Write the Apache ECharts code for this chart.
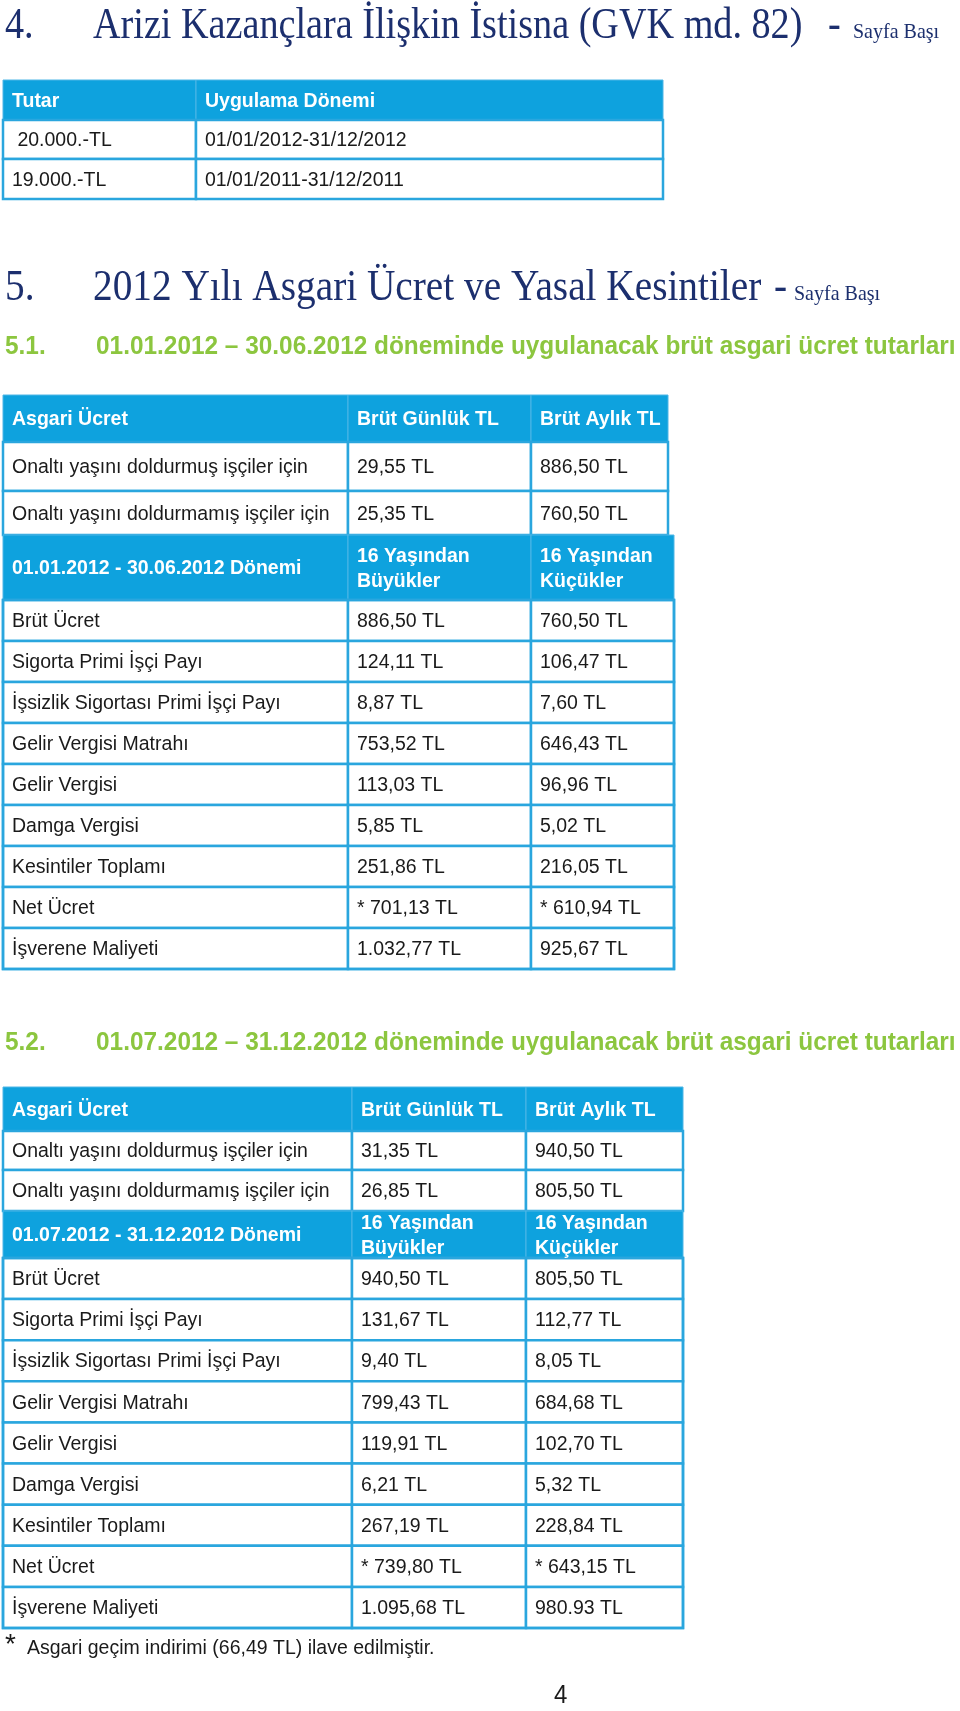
<!DOCTYPE html>
<html>
<head>
<meta charset="utf-8">
<script src="https://cdn.jsdelivr.net/npm/echarts@6/dist/echarts.min.js"></script>
<style>
html, body { margin: 0; padding: 0; background: #fff; }
#main { width: 960px; height: 1711px; }
</style>
</head>
<body>
<div id="main"></div>
<script>
// tablo verileri
var exemptAmounts = [' 20.000.-TL', '19.000.-TL'];
var exemptPeriods = ['01/01/2012-31/12/2012', '01/01/2011-31/12/2011'];

var rateHead = ['Asgari Ücret', 'Brüt Günlük TL', 'Brüt Aylık TL'];
var wageGroups = ['Onaltı yaşını doldurmuş işçiler için', 'Onaltı yaşını doldurmamış işçiler için'];
var dailyH1 = ['29,55 TL', '25,35 TL'];
var monthlyH1 = ['886,50 TL', '760,50 TL'];
var dailyH2 = ['31,35 TL', '26,85 TL'];
var monthlyH2 = ['940,50 TL', '805,50 TL'];

var periodH1 = '01.01.2012 - 30.06.2012 Dönemi';
var periodH2 = '01.07.2012 - 31.12.2012 Dönemi';
var ageGroups = ['16 Yaşından\nBüyükler', '16 Yaşından\nKüçükler'];

var items = ['Brüt Ücret', 'Sigorta Primi İşçi Payı', 'İşsizlik Sigortası Primi İşçi Payı', 'Gelir Vergisi Matrahı',
  'Gelir Vergisi', 'Damga Vergisi', 'Kesintiler Toplamı', 'Net Ücret', 'İşverene Maliyeti'];
var over16H1 = ['886,50 TL', '124,11 TL', '8,87 TL', '753,52 TL', '113,03 TL', '5,85 TL', '251,86 TL', '* 701,13 TL', '1.032,77 TL'];
var under16H1 = ['760,50 TL', '106,47 TL', '7,60 TL', '646,43 TL', '96,96 TL', '5,02 TL', '216,05 TL', '* 610,94 TL', '925,67 TL'];
var over16H2 = ['940,50 TL', '131,67 TL', '9,40 TL', '799,43 TL', '119,91 TL', '6,21 TL', '267,19 TL', '* 739,80 TL', '1.095,68 TL'];
var under16H2 = ['805,50 TL', '112,77 TL', '8,05 TL', '684,68 TL', '102,70 TL', '5,32 TL', '228,84 TL', '* 643,15 TL', '980.93 TL'];

var headBlue = '#0ea2de';
var lineBlue = '#2aa6de';
var navy = '#1c2f6e';
var green = '#8cc63f';
var ink = '#1a1a1a';
var sans = '"Liberation Sans", Arial, sans-serif';
var serif = '"Liberation Serif", "Times New Roman", serif';

var myChart = echarts.init(document.getElementById('main'));
var els = [];

function addText(x, y, txt, font, color, sy) {
  els.push({
    type: 'text', x: x, y: y, z: 3,
    scaleY: sy || 1,
    style: { text: txt, font: font, fill: color, verticalAlign: 'middle', lineHeight: 24 }
  });
}

// bir satir: hucreler, x sinirlari, y ust/alt, baslik mi
function addRow(cells, cols, y0, y1, head) {
  for (var i = 0; i < cells.length; i++) {
    els.push({
      type: 'rect', z: 1,
      shape: { x: cols[i], y: y0, width: cols[i + 1] - cols[i], height: y1 - y0 },
      style: { fill: head ? headBlue : '#fff', stroke: head ? '#4fb6e6' : lineBlue, lineWidth: head ? 1 : 2.5 }
    });
    addText(cols[i] + 9, (y0 + y1) / 2 + 1, cells[i],
      (head ? 'bold ' : '') + '19.5px ' + sans, head ? '#fff' : ink, 1.05);
  }
}

function addOuter(x0, y0, x1, y1) {
  els.push({
    type: 'rect', z: 2,
    shape: { x: x0, y: y0, width: x1 - x0, height: y1 - y0 },
    style: { fill: 'none', stroke: lineBlue, lineWidth: 2.5 }
  });
}

// 4. baslik
addText(5, 26, '4.', '38.2px ' + serif, navy, 1.15);
addText(93, 26, 'Arizi Kazançlara İlişkin İstisna (GVK md. 82)', '38.2px ' + serif, navy, 1.15);
addText(828, 26, '-', '38.2px ' + serif, navy, 1.15);
addText(853, 32, 'Sayfa Başı', '20px ' + serif, navy, 1.1);

// tablo 1
var cols1 = [3, 196, 663];
var rows1 = [80, 120, 159, 199];
addRow(['Tutar', 'Uygulama Dönemi'], cols1, rows1[0], rows1[1], true);
for (var i = 0; i < exemptAmounts.length; i++) {
  addRow([exemptAmounts[i], exemptPeriods[i]], cols1, rows1[i + 1], rows1[i + 2], false);
}

// 5. baslik
addText(5, 288, '5.', '39.3px ' + serif, navy, 1.15);
addText(93, 288, '2012 Yılı Asgari Ücret ve Yasal Kesintiler', '39.3px ' + serif, navy, 1.15);
addText(774, 288, '-', '39.3px ' + serif, navy, 1.15);
addText(794, 294, 'Sayfa Başı', '20px ' + serif, navy, 1.1);

function addWageTable(subNo, subText, subY, rowsY, colsTop, colsBottom, daily, monthly, period, over, under) {
  addText(5, subY, subNo, 'bold 24.4px ' + sans, green, 1.05);
  addText(96, subY, subText, 'bold 24.4px ' + sans, green, 1.05);
  addRow(rateHead, colsTop, rowsY[0], rowsY[1], true);
  for (var i = 0; i < wageGroups.length; i++) {
    addRow([wageGroups[i], daily[i], monthly[i]], colsTop, rowsY[i + 1], rowsY[i + 2], false);
  }
  addRow([period, ageGroups[0], ageGroups[1]], colsBottom, rowsY[3], rowsY[4], true);
  for (var j = 0; j < items.length; j++) {
    addRow([items[j], over[j], under[j]], colsBottom, rowsY[j + 4], rowsY[j + 5], false);
  }
  addOuter(colsBottom[0], rowsY[4], colsBottom[3], rowsY[rowsY.length - 1]);
}

function bodyRows(top, start, bottom, n) {
  var out = top.slice();
  var h = (bottom - start) / n;
  for (var i = 0; i <= n; i++) out.push(start + i * h);
  return out;
}

// 5.1
var rows2 = bodyRows([395, 442, 491, 535], 600, 969, items.length);
addWageTable('5.1.', '01.01.2012 – 30.06.2012 döneminde uygulanacak brüt asgari ücret tutarları', 347,
  rows2, [3, 348, 531, 668], [3, 348, 531, 674], dailyH1, monthlyH1, periodH1, over16H1, under16H1);

// 5.2
var rows3 = bodyRows([1087, 1131, 1170, 1211], 1258, 1628, items.length);
addWageTable('5.2.', '01.07.2012 – 31.12.2012 döneminde uygulanacak brüt asgari ücret tutarları', 1043,
  rows3, [3, 352, 526, 683], [3, 352, 526, 683], dailyH2, monthlyH2, periodH2, over16H2, under16H2);

// dipnot ve sayfa no
addText(5, 1645, '*', '28px ' + sans, ink);
addText(27, 1648, 'Asgari geçim indirimi (66,49 TL) ilave edilmiştir.', '19.5px ' + sans, ink, 1.05);
addText(554, 1696, '4', '24px ' + sans, ink, 1.1);

myChart.setOption({
  backgroundColor: '#fff',
  animation: false,
  graphic: { elements: els }
});
</script>
</body>
</html>
